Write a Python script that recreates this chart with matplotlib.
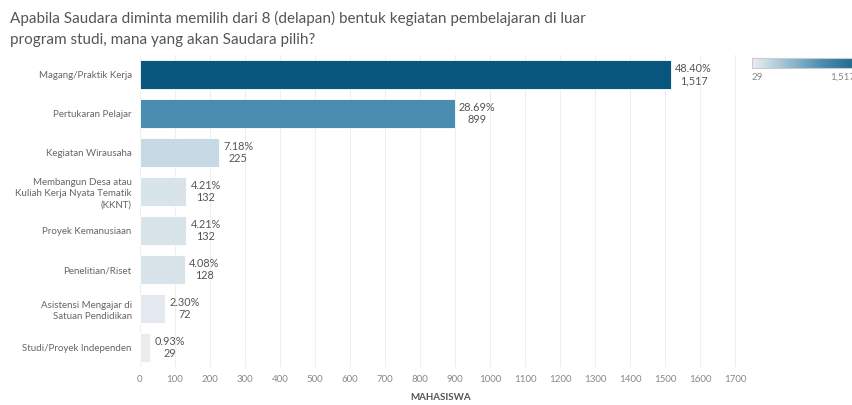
import matplotlib.pyplot as plt
import numpy as np
from matplotlib.colors import LinearSegmentedColormap, Normalize
from matplotlib.colorbar import ColorbarBase

categories = ['Magang/Praktik Kerja', 'Pertukaran Pelajar', 'Kegiatan Wirausaha',
              'Membangun Desa atau\nKuliah Kerja Nyata Tematik\n(KKNT)', 'Proyek Kemanusiaan',
              'Penelitian/Riset', 'Asistensi Mengajar di\nSatuan Pendidikan',
              'Studi/Proyek Independen']
counts = [1517, 899, 225, 132, 132, 128, 72, 29]
percents = ['48.40%', '28.69%', '7.18%', '4.21%', '4.21%', '4.08%', '2.30%', '0.93%']
ticks = list(range(0, 1800, 100))

plt.rcParams['font.family'] = ['Lato', 'DejaVu Sans']

# tableau-like sequential blue
cmap = LinearSegmentedColormap.from_list('tb', [
    (0.0, '#ebecec'), (0.03, '#e2e9ee'), (0.07, '#d8e4ea'), (0.13, '#c5dae4'),
    (0.585, '#4a8db0'), (1.0, '#08557d')])
norm = Normalize(vmin=min(counts), vmax=max(counts))

fig = plt.figure(figsize=(8.53, 4.05), dpi=100)
ax = fig.add_axes([140 / 853, 1 - 367 / 405, 602 / 853, 312 / 405])

y = np.arange(len(categories))
ax.barh(y, counts, height=0.76, color=[cmap(norm(c)) for c in counts],
        edgecolor='white', linewidth=0.6)
for yi, c, p in zip(y, counts, percents):
    ax.annotate(f'{p}\n{c:,}', (c, yi), xytext=(3, 0), textcoords='offset points',
                va='center', ha='left', multialignment='center', fontsize=7.8,
                color='#555555', linespacing=1.1)

ax.set_yticks(y)
ax.set_yticklabels(categories, fontsize=7, color='#666666', linespacing=1.3)
ax.set_ylim(len(categories) - 0.5, -0.5)
ax.set_xlim(0, 1720)
ax.set_xticks(ticks)
ax.set_xticklabels([str(t) for t in ticks], fontsize=7, color='#888888')
ax.tick_params(axis='both', length=0, pad=6)
ax.set_xlabel('MAHASISWA', fontsize=7, color='#555555', fontweight='bold', labelpad=6)
ax.grid(axis='x', color='#eeeeee', linewidth=0.8)
ax.set_axisbelow(True)
for s in ax.spines.values():
    s.set_visible(False)

fig.text(10 / 853, 1 - 18 / 405, 'Apabila Saudara diminta memilih dari 8 (delapan) bentuk kegiatan pembelajaran di luar',
         fontsize=11, color='#555555', va='center')
fig.text(10 / 853, 1 - 40 / 405, 'program studi, mana yang akan Saudara pilih?',
         fontsize=11, color='#555555', va='center')

cax = fig.add_axes([752 / 853, 1 - 68 / 405, 120 / 853, 10 / 405])
cb = ColorbarBase(cax, cmap=cmap, norm=norm, orientation='horizontal')
cb.set_ticks([])
cb.outline.set_edgecolor('#cccccc')
fig.text(752 / 853, 1 - 77 / 405, '29', fontsize=7, color='#888888', va='center')
fig.text(830 / 853, 1 - 77 / 405, '1,517', fontsize=7, color='#888888', va='center')

fig.savefig('out.png', dpi=100)
